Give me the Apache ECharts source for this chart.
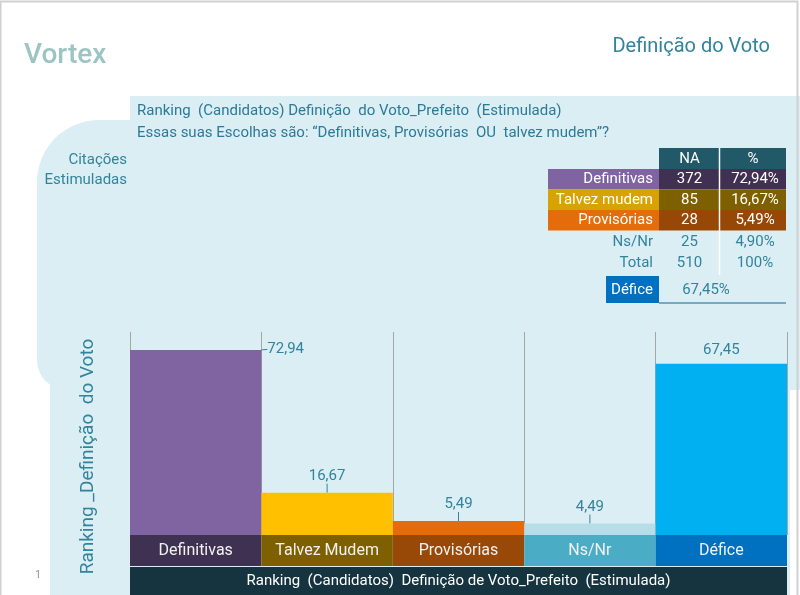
<!DOCTYPE html>
<html>
<head>
<meta charset="utf-8">
<script src="https://cdn.jsdelivr.net/npm/echarts@6/dist/echarts.min.js"></script>
<style>
  html, body { margin: 0; padding: 0; background: #ffffff; }
  #chart { width: 800px; height: 595px; }
</style>
</head>
<body>
<div id="chart"></div>
<script>
// Dados do gráfico de barras
const categories = ['Definitivas', 'Talvez Mudem', 'Provisórias', 'Ns/Nr', 'Défice'];
const values = [72.94, 16.67, 5.49, 4.49, 67.45];
const barColors = ['#8064a2', '#ffc000', '#e46c0a', '#b7dee8', '#00b0f0'];
const bandColors = ['#3f3151', '#7f6000', '#984807', '#4bacc6', '#0070c0'];

// Dados da tabela
const tableHeader = ['NA', '%'];
const tableRows = ['Definitivas', 'Talvez mudem', 'Provisórias', 'Ns/Nr', 'Total'];
const tableNA = ['372', '85', '28', '25', '510'];
const tablePct = ['72,94%', '16,67%', '5,49%', '4,90%', '100%'];
const rowLabelBg = ['#8064a2', '#d6a300', '#e46c0a', null, null];
const rowValueBg = ['#403152', '#7f6000', '#974806', null, null];
const deficeLabel = 'Défice';
const deficeValue = '67,45%';

const FONT = 'Roboto';
const TEAL = '#31849b';

// Tabela desenhada com elementos gráficos
function buildTable() {
    const els = [];
    const xL = 548, xN = 659, xP = 720, xEnd = 786;
    const rowTops = [169, 189.5, 210, 231.5, 253];
    const rowH = [20.5, 20.5, 20.5, 21, 21];
    const f = '15px ' + FONT;
    // cabeçalho
    els.push({ type: 'rect', shape: { x: xN, y: 148, width: xEnd - xN, height: 21 }, style: { fill: '#215968' } });
    els.push({ type: 'text', x: (xN + xP) / 2, y: 159, style: { text: tableHeader[0], fill: '#fff', font: f, align: 'center', verticalAlign: 'middle' } });
    els.push({ type: 'text', x: (xP + xEnd) / 2, y: 159, style: { text: tableHeader[1], fill: '#fff', font: f, align: 'center', verticalAlign: 'middle' } });
    tableRows.forEach((name, i) => {
        const y = rowTops[i], h = rowH[i];
        const filled = rowLabelBg[i] !== null;
        if (filled) {
            els.push({ type: 'rect', shape: { x: xL, y: y, width: xN - xL, height: h }, style: { fill: rowLabelBg[i] } });
            els.push({ type: 'rect', shape: { x: xN, y: y, width: xEnd - xN, height: h }, style: { fill: rowValueBg[i] } });
        }
        const col = filled ? '#ffffff' : TEAL;
        els.push({ type: 'text', x: 653, y: y + h / 2, style: { text: name, fill: col, font: f, align: 'right', verticalAlign: 'middle' } });
        els.push({ type: 'text', x: (xN + xP) / 2, y: y + h / 2, style: { text: tableNA[i], fill: col, font: f, align: 'center', verticalAlign: 'middle' } });
        els.push({ type: 'text', x: (xP + xEnd) / 2 + 2, y: y + h / 2, style: { text: tablePct[i], fill: col, font: f, align: 'center', verticalAlign: 'middle' } });
    });
    // separador branco entre colunas
    els.push({ type: 'line', shape: { x1: xP - 0.5, y1: 148, x2: xP - 0.5, y2: 275 }, style: { stroke: '#ffffff', lineWidth: 1.5 } });
    // linha Défice
    els.push({ type: 'rect', shape: { x: 606, y: 276, width: xN - 606, height: 27 }, style: { fill: '#0070c0' } });
    els.push({ type: 'text', x: 632, y: 290, style: { text: deficeLabel, fill: '#fff', font: f, align: 'center', verticalAlign: 'middle' } });
    els.push({ type: 'text', x: 706, y: 290, style: { text: deficeValue, fill: TEAL, font: f, align: 'center', verticalAlign: 'middle' } });
    els.push({ type: 'line', shape: { x1: xN, y1: 303, x2: xEnd, y2: 303 }, style: { stroke: '#4f93b8', lineWidth: 1.5 } });
    return els;
}

const graphics = [
    // fundo azul claro
    { type: 'rect', z: -10, shape: { x: 130, y: 96, width: 670, height: 60 }, style: { fill: '#dbeef4' } },
    { type: 'rect', z: -10, shape: { x: 37, y: 120, width: 763, height: 270, r: [62, 0, 0, 30] }, style: { fill: '#dbeef4' } },
    { type: 'rect', z: -10, shape: { x: 50, y: 330, width: 740, height: 265 }, style: { fill: '#dbeef4' } },
    // moldura da página
    { type: 'rect', z: -9, shape: { x: 0.5, y: 1.5, width: 797, height: 600 }, style: { fill: 'none', stroke: '#d0d0d0', lineWidth: 2 } },
    { type: 'text', x: 24, y: 56, style: { text: 'Vortex', fill: '#9bc4c3', font: '500 28px ' + FONT, verticalAlign: 'middle' } },
    { type: 'text', x: 770, y: 47, style: { text: 'Definição do Voto', fill: TEAL, font: '20px ' + FONT, align: 'right', verticalAlign: 'middle' } },
    { type: 'text', x: 137, y: 111, style: { text: 'Ranking  (Candidatos) Definição  do Voto_Prefeito  (Estimulada)', fill: '#2b7a98', font: '15px ' + FONT, verticalAlign: 'middle' } },
    { type: 'text', x: 137, y: 133, style: { text: 'Essas suas Escolhas são: “Definitivas, Provisórias  OU  talvez mudem”?', fill: '#2b7a98', font: '15px ' + FONT, verticalAlign: 'middle' } },
    { type: 'text', x: 127, y: 160, style: { text: 'Citações', fill: TEAL, font: '15px ' + FONT, align: 'right', verticalAlign: 'middle' } },
    { type: 'text', x: 127, y: 180, style: { text: 'Estimuladas', fill: TEAL, font: '15px ' + FONT, align: 'right', verticalAlign: 'middle' } },
    { type: 'text', x: 38, y: 575, style: { text: '1', fill: '#8c8c8c', font: '10px ' + FONT, align: 'center', verticalAlign: 'middle' } }
].concat(buildTable());

const rich = {};
categories.forEach((c, i) => {
    rich['c' + i] = {
        backgroundColor: bandColors[i],
        color: '#f2f2f2',
        width: 131.4,
        height: 31,
        lineHeight: 31,
        align: 'center',
        fontSize: 16,
        fontFamily: FONT
    };
});

const chart = echarts.init(document.getElementById('chart'));
chart.setOption({
    backgroundColor: '#ffffff',
    animation: false,
    graphic: graphics,
    grid: { left: 130, right: 13, top: 332, bottom: 60, containLabel: false, outerBoundsMode: 'none' },
    xAxis: {
        type: 'category',
        data: categories,
        axisLine: { show: false },
        axisTick: { show: false },
        splitLine: { show: true, lineStyle: { color: '#a6a6a6', width: 1 } },
        axisLabel: {
            margin: 0,
            interval: 0,
            verticalAlign: 'top',
            formatter: function (v, i) { return '{c' + i + '|' + v + '}'; },
            rich: rich
        },
        name: '{n|Ranking  (Candidatos)  Definição de Voto_Prefeito  (Estimulada)}',
        nameLocation: 'middle',
        nameGap: 31,
        nameTextStyle: {
            verticalAlign: 'top',
            rich: {
                n: {
                    color: '#ffffff',
                    fontSize: 15,
                    fontFamily: FONT,
                    backgroundColor: '#16343f',
                    width: 657,
                    height: 29,
                    lineHeight: 29,
                    align: 'center'
                }
            }
        }
    },
    yAxis: {
        type: 'value',
        min: 0,
        max: 80,
        axisLabel: { show: false },
        axisLine: { show: false },
        axisTick: { show: false },
        splitLine: { show: false },
        name: 'Ranking _Definição  do Voto',
        nameLocation: 'middle',
        nameRotate: 90,
        nameGap: 32,
        nameTextStyle: { color: TEAL, fontSize: 19, fontFamily: FONT, padding: [0, 46, 0, 0] }
    },
    series: [{
        type: 'bar',
        barCategoryGap: '0%',
        data: values.map((v, i) => ({
            value: v,
            itemStyle: { color: barColors[i] },
            labelLine: { show: i !== 4 }
        })),
        label: {
            show: true,
            position: 'top',
            distance: 3,
            color: TEAL,
            fontSize: 15,
            fontFamily: FONT,
            formatter: function (p) { return p.value.toFixed(2).replace('.', ','); }
        },
        labelLine: { show: true, lineStyle: { color: TEAL, width: 1 } },
        labelLayout: function (params) {
            if (params.dataIndex === 0) return { dx: 90, dy: 10 };
            if (params.dataIndex === 4) return { dy: -3 };
            return { dy: -6 };
        }
    }]
});
</script>
</body>
</html>
